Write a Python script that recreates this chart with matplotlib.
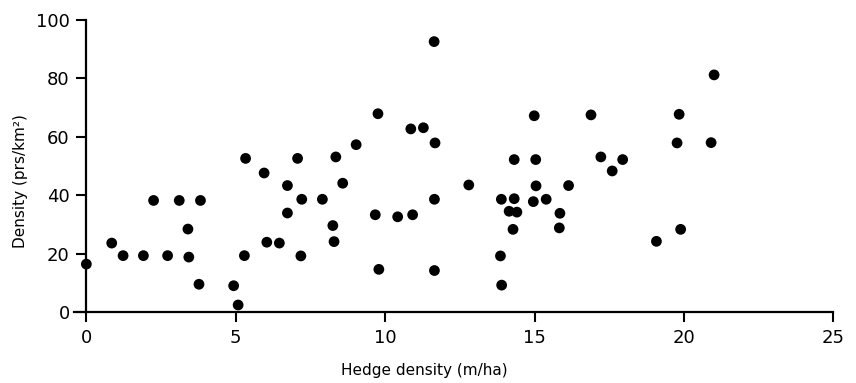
import numpy as np
import matplotlib
matplotlib.use("Agg")
import matplotlib.pyplot as plt

# hedge density (m/ha) and partridge density (prs/km2)
hedge = [0.0, 0.85, 1.23, 1.91, 2.25, 2.72, 3.11, 3.40, 3.43, 3.82, 3.77,
         4.93, 5.08, 5.33, 5.29, 5.95, 6.04, 6.46, 6.73, 6.73, 7.07, 7.18,
         7.21, 7.90, 8.35, 8.58, 8.25, 8.29, 9.03, 9.76, 9.67, 9.79, 10.42,
         10.86, 10.92, 11.28, 11.64, 11.67, 11.65, 11.65, 12.80, 13.89, 13.86,
         13.90, 14.32, 14.32, 14.15, 14.41, 14.28, 14.99, 15.04, 15.05, 14.96,
         15.39, 15.85, 15.83, 16.14, 16.89, 17.22, 17.60, 17.95, 19.08, 19.84,
         19.77, 19.89, 20.91, 21.01]
density = [16.4, 23.6, 19.3, 19.3, 38.2, 19.3, 38.2, 28.4, 18.8, 38.2, 9.5,
           9.0, 2.4, 52.6, 19.3, 47.6, 23.9, 23.6, 43.3, 33.9, 52.6, 19.2,
           38.6, 38.6, 53.1, 44.1, 29.6, 24.1, 57.3, 67.9, 33.3, 14.6, 32.6,
           62.7, 33.3, 63.1, 92.6, 57.9, 38.6, 14.2, 43.5, 38.6, 19.2,
           9.2, 52.2, 38.8, 34.5, 34.2, 28.3, 67.2, 52.2, 43.2, 37.8,
           38.6, 33.8, 28.8, 43.3, 67.5, 53.1, 48.3, 52.2, 24.2, 67.7,
           57.9, 28.3, 58.0, 81.2]

xticks = [0, 5, 10, 15, 20, 25]
yticks = [0, 20, 40, 60, 80, 100]

plt.rcParams['font.family'] = ['DejaVu Sans']

fig = plt.figure(figsize=(8.56, 3.83), dpi=100)
ax = fig.add_axes([0.0869, 0.1854, 0.8866, 0.7624])

ax.scatter(hedge, density, s=60, c="black", edgecolors="none", clip_on=False, zorder=3)

ax.set_xlim(-0.4, 25)
ax.set_ylim(0, 100)
ax.spines["left"].set_position(("data", 0))
ax.spines["top"].set_visible(False)
ax.spines["right"].set_visible(False)
for s in ["left", "bottom"]:
    ax.spines[s].set_linewidth(1.6)
ax.spines["bottom"].set_bounds(-0.4, 25)

ax.set_xticks(xticks)
ax.set_yticks(yticks)
ax.tick_params(axis="x", direction="out", length=7, width=1.5, pad=5, labelsize=13)
ax.tick_params(axis="y", direction="out", length=7, width=1.5, pad=5, labelsize=13)

fig.text(424 / 856, 1 - 370 / 383, "Hedge density (m/ha)", ha="center", va="center", fontsize=11)
fig.text(21 / 856, 1 - 181 / 383, "Density (prs/km²)", ha="center", va="center",
         rotation=90, fontsize=11)

fig.savefig("out.png", dpi=100)
